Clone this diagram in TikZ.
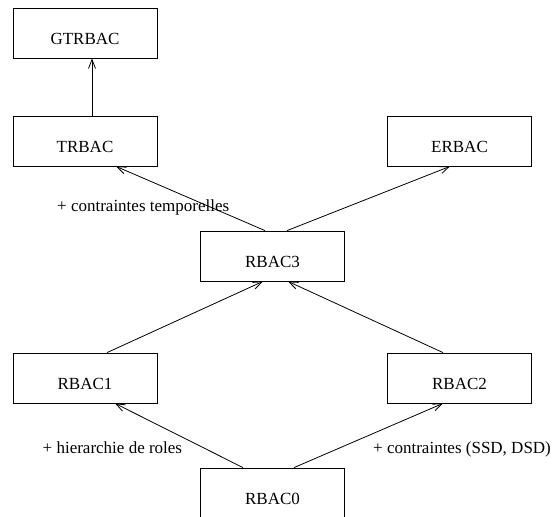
\documentclass[tikz,border=0pt]{standalone}
\usepackage{fontspec}
\setmainfont{Liberation Serif}
\usetikzlibrary{arrows.meta}
\begin{document}
\begin{tikzpicture}[x=1pt,y=-1pt,
  box/.style={draw,line width=0.8pt,minimum width=144pt,minimum height=50pt,inner sep=0pt,
    text height=22pt,text depth=0pt,font=\fontsize{17}{20}\selectfont},
  lbl/.style={anchor=base west,inner sep=0pt,font=\fontsize{17}{20}\selectfont},
  arr/.style={line width=0.8pt,-{Straight Barb[length=9pt,width=7pt,line width=0.8pt]}}]
\useasboundingbox (0,0) rectangle (552,517);
\node[box] (gtrbac) at (85,33) {GTRBAC};
\node[box] (trbac) at (85,141) {TRBAC};
\node[box] (erbac) at (459.5,141) {ERBAC};
\node[box] (rbac3) at (272.5,256) {RBAC3};
\node[box] (rbac1) at (85,378) {RBAC1};
\node[box] (rbac2) at (459.5,378) {RBAC2};
\node[box] (rbac0) at (272.5,493) {RBAC0};
\node[lbl] (l1) at (57,211) {+ contraintes temporelles};
\node[lbl] (l2) at (42.5,453) {+ hierarchie de roles};
\node[lbl] (l3) at (373,453) {+ contraintes (SSD, DSD)};
\draw[arr] ([xshift=7pt]trbac.north) -- ([xshift=7pt]gtrbac.south);
\draw[arr] ([xshift=-7.5pt]rbac3.north) -- ([xshift=31pt]trbac.south);
\draw[arr] ([xshift=14.5pt]rbac3.north) -- ([xshift=-9.5pt]erbac.south);
\draw[arr] ([xshift=22pt]rbac1.north) -- ([xshift=-9.5pt]rbac3.south);
\draw[arr] ([xshift=-16.5pt]rbac2.north) -- ([xshift=15.5pt]rbac3.south);
\draw[arr] ([xshift=-29.5pt]rbac0.north) -- ([xshift=30pt]rbac1.south);
\draw[arr] ([xshift=21.5pt]rbac0.north) -- ([xshift=-16.5pt]rbac2.south);
\end{tikzpicture}
\end{document}
